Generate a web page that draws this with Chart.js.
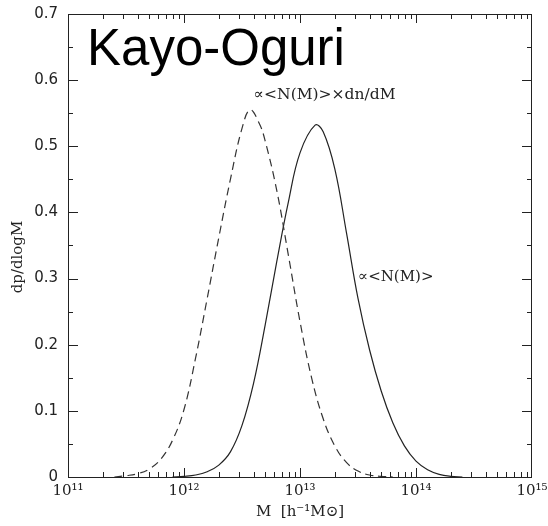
<!DOCTYPE html>
<html>
<head>
<meta charset="utf-8">
<script src="https://cdn.jsdelivr.net/npm/chart.js@4/dist/chart.umd.min.js"></script>
<style>
  html, body { margin: 0; padding: 0; background: #fff; }
  #wrap { width: 548px; height: 526px; }
</style>
</head>
<body>
<div id="wrap"><canvas id="mass-chart"></canvas></div>
<script>
// log10(M) samples and dp/dlogM for the two distributions
const logMassWeighted = [11.40, 11.50, 11.60, 11.70, 11.80, 11.90, 12.00, 12.10, 12.20, 12.30, 12.40, 12.50, 12.57, 12.65, 12.70, 12.80, 12.90, 13.00, 13.10, 13.20, 13.30, 13.40, 13.50, 13.60, 13.70, 13.80];
const probWeighted = [0, 0.002, 0.005, 0.012, 0.027, 0.055, 0.102, 0.180, 0.270, 0.362, 0.450, 0.527, 0.555, 0.534, 0.508, 0.433, 0.335, 0.235, 0.150, 0.088, 0.047, 0.022, 0.009, 0.003, 0.001, 0];

const logMassHost = [11.90, 12.00, 12.10, 12.20, 12.30, 12.40, 12.50, 12.60, 12.70, 12.80, 12.90, 13.00, 13.13, 13.20, 13.30, 13.40, 13.50, 13.60, 13.70, 13.80, 13.90, 14.00, 14.10, 14.20, 14.30, 14.40];
const probHost = [0, 0.001, 0.003, 0.008, 0.018, 0.038, 0.078, 0.142, 0.230, 0.326, 0.416, 0.490, 0.532, 0.522, 0.466, 0.370, 0.270, 0.192, 0.130, 0.082, 0.047, 0.024, 0.011, 0.004, 0.001, 0];

const xExponents = [11, 12, 13, 14, 15];
const yTicks = [0, 0.1, 0.2, 0.3, 0.4, 0.5, 0.6, 0.7];

const titleText = 'Kayo-Oguri';
const labelWeighted = '∝<N(M)>×dn/dM';
const labelHost = '∝<N(M)>';

const SUP = { '0': '⁰', '1': '¹', '2': '²', '3': '³', '4': '⁴', '5': '⁵', '6': '⁶', '7': '⁷', '8': '⁸', '9': '⁹' };
const sup = n => String(n).split('').map(c => SUP[c]).join('');

const toPoints = (lm, p) => lm.map((v, i) => ({ x: Math.pow(10, v), y: p[i] }));

const ink = '#222';

// inward ticks on all four sides, frame, axis titles and curve labels
const framePlugin = {
    id: 'frame',
    afterDraw(chart) {
        const { ctx, chartArea: a, scales: { x, y } } = chart;
        ctx.save();
        ctx.strokeStyle = ink;
        ctx.lineWidth = 1;
        ctx.strokeRect(a.left + 0.5, a.top + 0.5, a.right - a.left - 1, a.bottom - a.top);

        ctx.beginPath();
        for (let e = 11; e < 15; e++) {
            for (let k = 1; k <= 9; k++) {
                const px = Math.round(x.getPixelForValue(k * Math.pow(10, e))) + 0.5;
                const len = k === 1 ? 9 : 5;
                ctx.moveTo(px, a.bottom); ctx.lineTo(px, a.bottom - len);
                ctx.moveTo(px, a.top); ctx.lineTo(px, a.top + len);
            }
        }
        for (let i = 0; i <= 14; i++) {
            const py = Math.round(y.getPixelForValue(i * 0.05)) + 0.5;
            const len = i % 2 === 0 ? 10 : 5;
            ctx.moveTo(a.left, py); ctx.lineTo(a.left + len, py);
            ctx.moveTo(a.right, py); ctx.lineTo(a.right - len, py);
        }
        ctx.stroke();

        ctx.fillStyle = '#000';
        ctx.font = '51px "Liberation Sans"';
        ctx.textAlign = 'left';
        ctx.textBaseline = 'alphabetic';
        ctx.fillText(titleText, a.left + 19, a.top + 51);

        ctx.fillStyle = ink;
        ctx.font = '15.5px "DejaVu Serif"';
        ctx.textBaseline = 'middle';
        ctx.fillText(labelWeighted, x.getPixelForValue(Math.pow(10, 12.6)), y.getPixelForValue(0.577));
        ctx.font = '15px "DejaVu Serif"';
        ctx.fillText(labelHost, x.getPixelForValue(Math.pow(10, 13.5)), y.getPixelForValue(0.302));

        ctx.textAlign = 'center';
        ctx.fillText('M  [h⁻¹M⊙]', (a.left + a.right) / 2, 512);

        ctx.translate(18, 257);
        ctx.rotate(-Math.PI / 2);
        ctx.fillText('dp/dlogM', 0, 0);
        ctx.restore();
    }
};

new Chart(document.getElementById('mass-chart'), {
    type: 'line',
    data: {
        datasets: [
            {
                label: labelWeighted,
                data: toPoints(logMassWeighted, probWeighted),
                borderColor: '#333',
                borderWidth: 1.2,
                borderDash: [8, 5],
                pointRadius: 0,
                tension: 0.4,
                fill: false
            },
            {
                label: labelHost,
                data: toPoints(logMassHost, probHost),
                borderColor: '#222',
                borderWidth: 1.2,
                pointRadius: 0,
                tension: 0.4,
                fill: false
            }
        ]
    },
    options: {
        responsive: true,
        maintainAspectRatio: false,
        animation: false,
        layout: { padding: { top: 14, right: 16, left: 0, bottom: 0 } },
        plugins: {
            legend: { display: false },
            tooltip: { enabled: false }
        },
        scales: {
            x: {
                type: 'logarithmic',
                min: 1e11,
                max: 1e15,
                grid: { display: false, drawTicks: false },
                border: { display: false },
                afterBuildTicks: s => { s.ticks = xExponents.map(e => ({ value: Math.pow(10, e) })); },
                afterFit: s => { s.height = 49; s.paddingLeft = 0; s.paddingRight = 0; },
                ticks: {
                    color: ink,
                    font: { family: 'DejaVu Serif', size: 15 },
                    padding: 5,
                    maxRotation: 0,
                    autoSkip: false,
                    callback: v => '10' + sup(Math.round(Math.log10(v)))
                }
            },
            y: {
                type: 'linear',
                min: 0,
                max: 0.7,
                grid: { display: false, drawTicks: false },
                border: { display: false },
                afterBuildTicks: s => { s.ticks = yTicks.map(v => ({ value: v })); },
                afterFit: s => { s.width = 68; s.paddingTop = 0; s.paddingBottom = 0; },
                ticks: {
                    color: ink,
                    font: { family: 'DejaVu Sans', size: 15 },
                    padding: 10,
                    callback: v => v === 0 ? '0' : v.toFixed(1)
                }
            }
        }
    },
    plugins: [framePlugin]
});
</script>
</body>
</html>
